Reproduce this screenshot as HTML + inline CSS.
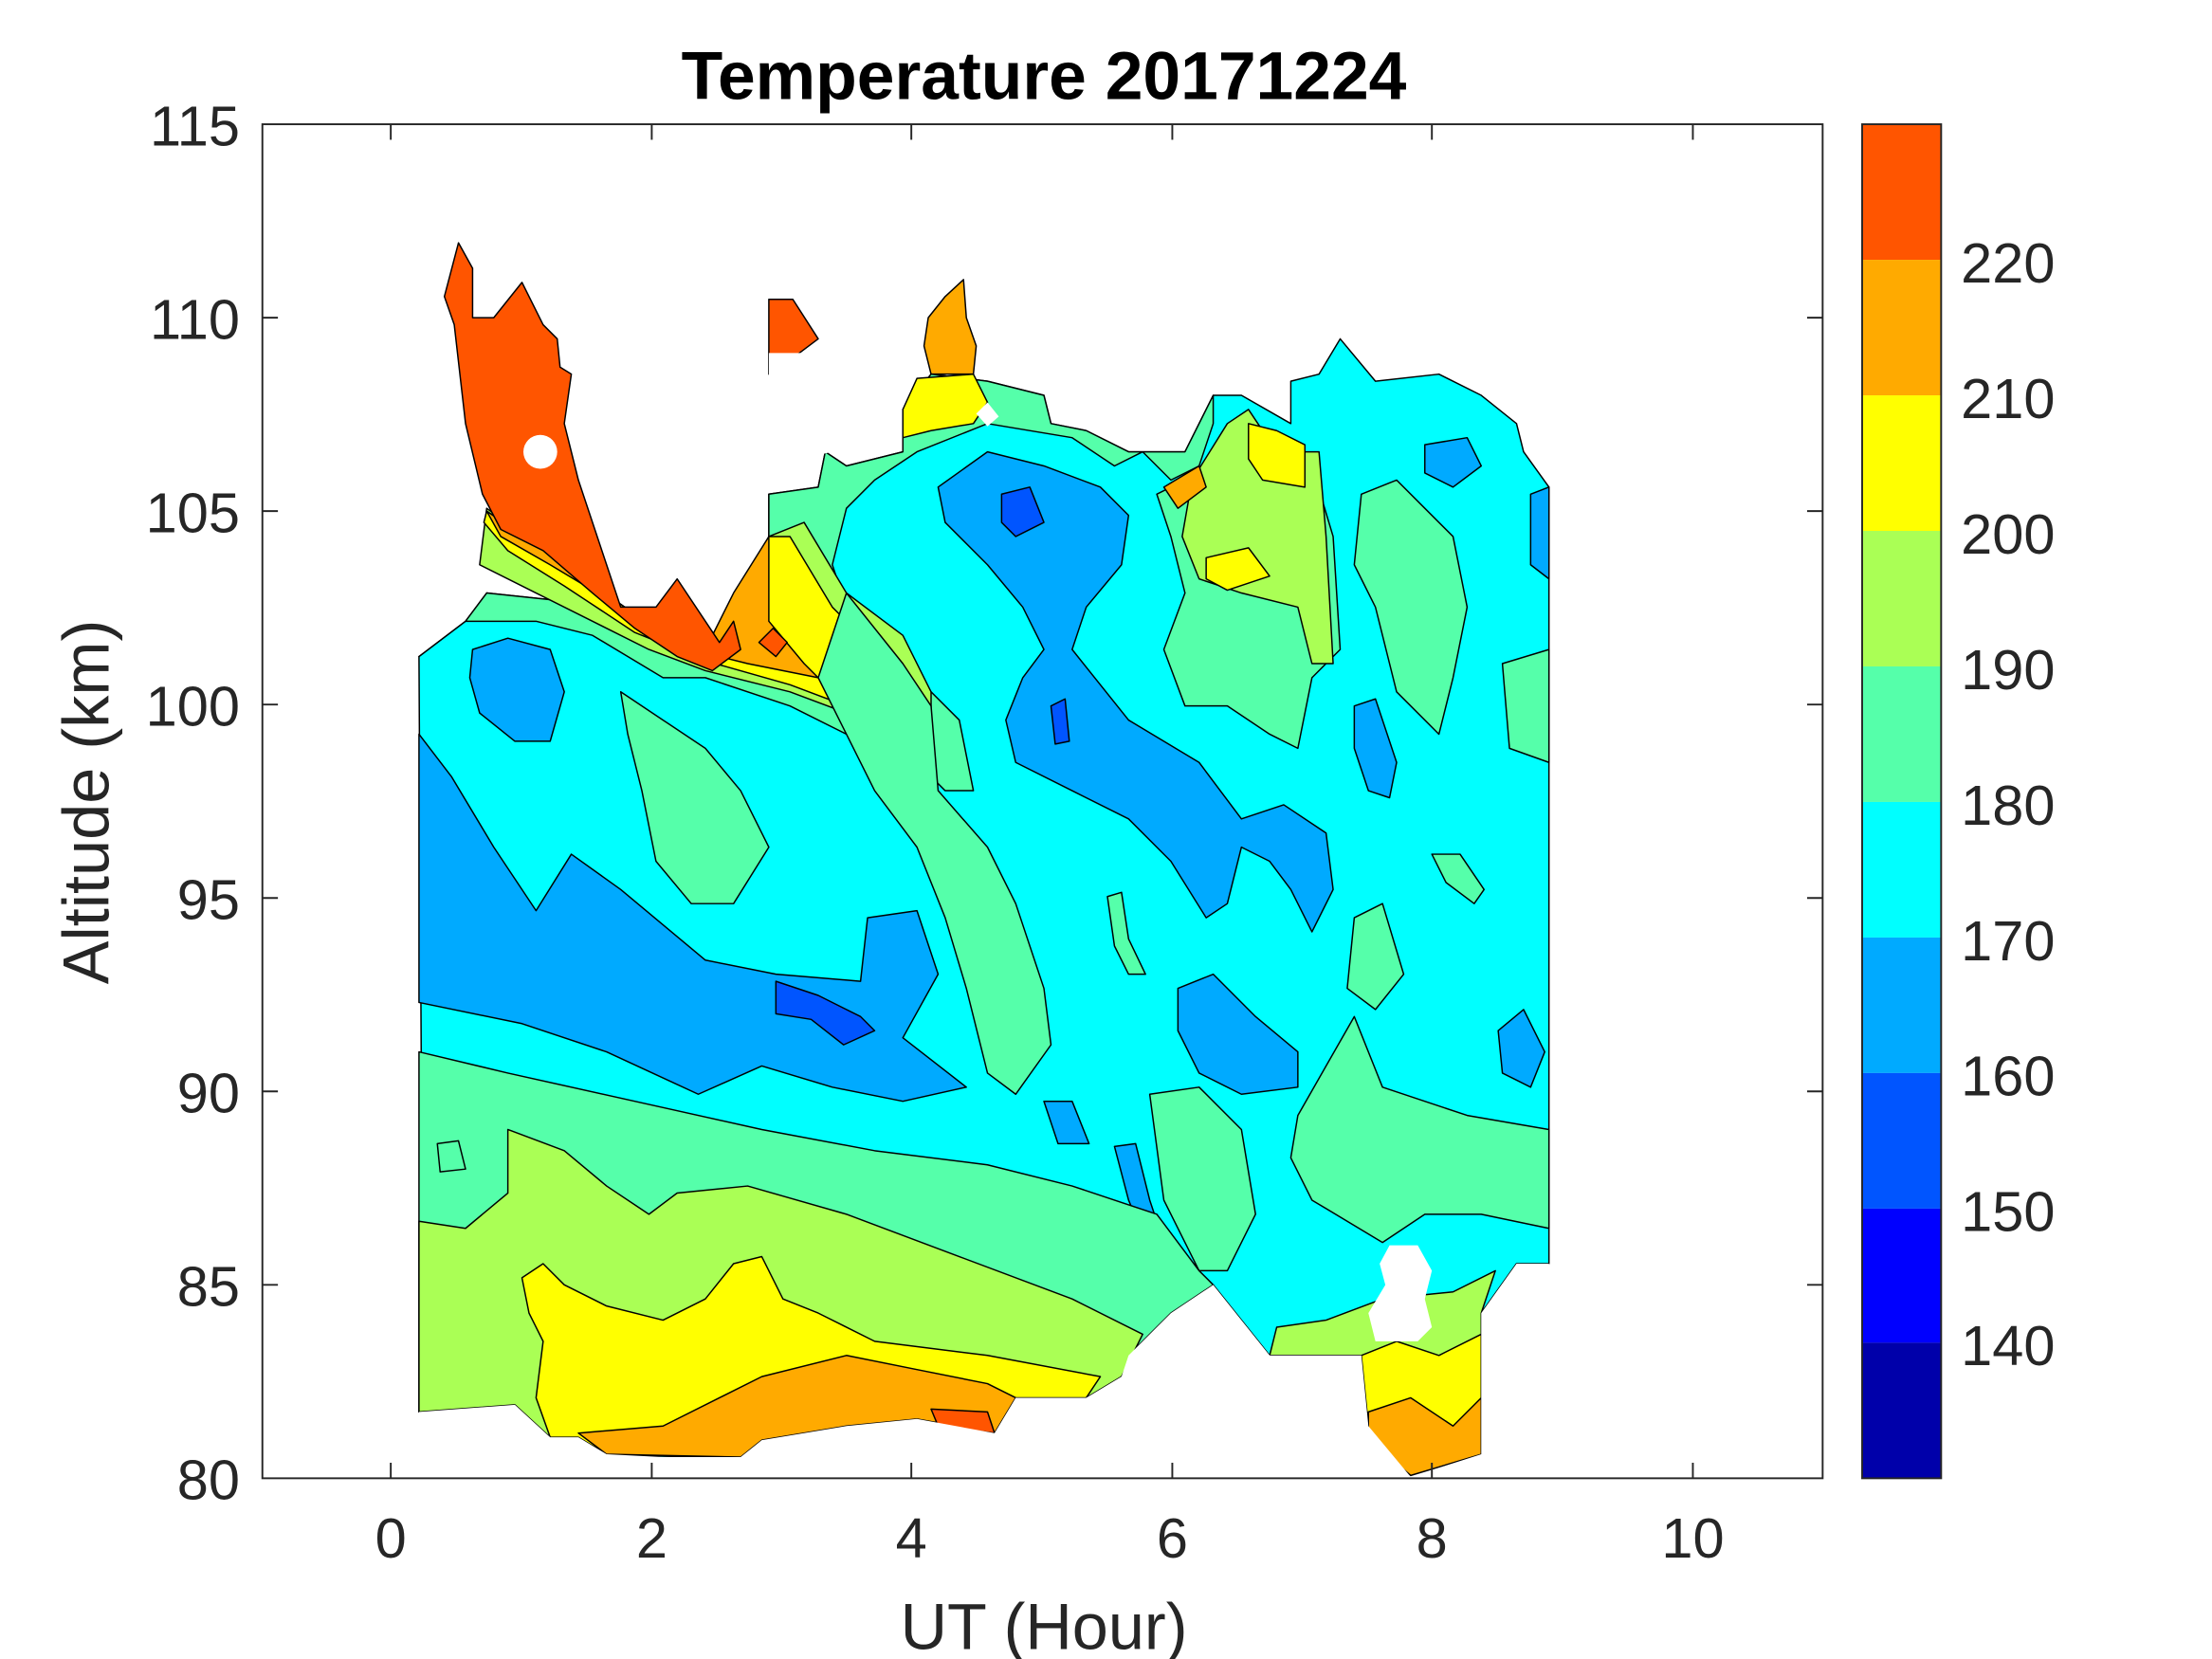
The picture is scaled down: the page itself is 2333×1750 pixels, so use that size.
<!DOCTYPE html>
<html><head><meta charset="utf-8"><style>html,body{margin:0;padding:0;background:#fff}svg{display:block}</style></head>
<body>
<svg width="2333" height="1750" viewBox="0 0 1568 1175" preserveAspectRatio="none" xmlns="http://www.w3.org/2000/svg" font-family="Liberation Sans, sans-serif">
<rect width="1568" height="1175" fill="#fff"/>
<g stroke="#000" stroke-width="1" stroke-linejoin="round">
<polygon fill="#00FFFF" points="297,465 330,440 345,420 440,430 500,470 520,460 545,400 545,350 580,345 585,320 600,330 640,320 640,290 660,265 700,270 740,280 745,300 770,305 800,320 840,320 860,280 880,280 915,300 915,270 935,265 950,240 975,270 1020,265 1050,280 1075,300 1080,320 1098,345 1098,895 1075,895 1050,930 1050,1030 1000,1040 970,1010 965,960 900,960 860,910 830,930 800,960 795,975 770,990 720,990 705,1015 650,1005 600,1010 540,1020 525,1032 470,1032 430,1030 410,1018 390,1018 365,995 300,1000"/>
<polygon fill="#55FFAA" points="297,465 330,440 345,420 440,430 500,470 520,460 545,400 545,350 580,345 585,320 600,330 640,320 640,290 660,265 700,270 740,280 745,300 770,305 800,320 840,320 860,280 860,300 850,330 830,340 810,320 790,330 760,310 700,300 650,320 620,340 600,360 590,400 600,430 640,470 680,510 690,560 670,560 650,540 630,540 600,520 560,500 500,480 470,480 420,450 380,440 330,440"/>
<polygon fill="#AAFF55" points="340,400 345,360 400,400 450,435 500,460 525,430 545,380 570,370 600,420 640,450 660,490 660,530 630,525 600,505 560,490 500,475 460,460 420,440 380,420"/>
<polygon fill="#FFFF00" points="343,370 345,362 400,400 450,435 500,460 525,430 545,380 560,380 590,430 630,470 645,505 635,520 600,500 560,485 500,468 450,448 400,415 360,390"/>
<polygon fill="#FFAA00" points="345,362 400,400 450,435 500,460 520,420 545,380 545,440 570,470 580,480 530,470 490,460 440,430 390,400 355,380"/>
<polygon fill="#FF5500" points="315,210 325,172 335,190 335,225 350,225 370,200 385,230 395,240 397,260 405,265 400,300 410,340 430,400 440,430 465,430 480,410 500,440 510,455 520,440 525,460 505,475 480,465 450,445 420,420 385,390 355,375 342,350 330,300 322,230"/>
<ellipse cx="383" cy="320" rx="12" ry="12" fill="#fff" stroke="none"/>
<polygon fill="#FF5500" points="538,455 548,445 558,455 550,465"/>
<polygon fill="#FF5500" points="545,212 562,212 580,240 560,255 545,265"/>
<polygon fill="#FFAA00" points="658,225 670,210 683,198 685,225 692,245 690,265 660,265 655,245"/>
<polygon fill="#FFFF00" points="640,290 650,268 690,265 700,285 690,300 660,305 640,310"/>
<polygon fill="#fff" stroke="none" points="545,250 595,250 590,320 545,330"/>
<polygon fill="#fff" stroke="none" points="700,285 708,295 700,302 692,293"/>
<polygon fill="#55FFAA" points="820,350 860,330 880,300 900,320 930,330 945,380 950,460 930,480 920,530 900,520 870,500 840,500 825,460 840,420 830,380"/>
<polygon fill="#AAFF55" points="845,340 870,300 885,290 905,320 935,320 940,380 945,470 930,470 920,430 880,420 850,410 838,380"/>
<polygon fill="#FFFF00" points="885,300 905,305 925,315 925,345 895,340 885,325"/>
<polygon fill="#FFFF00" points="855,395 885,388 900,408 870,418 855,410"/>
<polygon fill="#FFAA00" points="825,345 850,330 855,345 835,360"/>
<polygon fill="#55FFAA" points="965,350 990,340 1010,360 1030,380 1040,430 1030,480 1020,520 990,490 975,430 960,400"/>
<polygon fill="#55FFAA" points="1065,470 1098,460 1098,540 1070,530"/>
<polygon fill="#55FFAA" points="920,790 960,720 980,770 1040,790 1098,800 1098,870 1050,860 1010,860 980,880 930,850 915,820"/>
<polygon fill="#55FFAA" points="960,650 980,640 995,690 975,715 955,700"/>
<polygon fill="#55FFAA" points="815,775 850,770 880,800 890,860 870,900 850,900 825,850"/>
<polygon fill="#55FFAA" points="1015,605 1035,605 1052,630 1045,640 1025,625"/>
<polygon fill="#55FFAA" points="785,635 795,632 800,665 812,690 800,690 790,670"/>
<polygon fill="#55FFAA" points="440,490 470,510 500,530 525,560 545,600 520,640 490,640 465,610 455,560 445,520"/>
<polygon fill="#55FFAA" points="600,420 640,470 660,500 665,560 700,600 720,640 740,700 745,740 720,775 700,760 685,700 670,650 650,600 620,560 600,520 580,480"/>
<polygon fill="#00AAFF" points="297,520 320,550 350,600 380,645 405,605 440,630 500,680 550,690 610,695 615,650 650,645 665,690 640,735 685,770 640,780 590,770 540,755 495,775 430,745 370,725 297,710"/>
<polygon fill="#0055FF" points="550,695 580,705 610,720 620,730 598,740 575,722 550,718"/>
<polygon fill="#00AAFF" points="335,460 360,452 390,460 400,490 390,525 365,525 340,505 333,480"/>
<polygon fill="#00AAFF" points="665,345 700,320 740,330 780,345 800,365 795,400 770,430 760,460 800,510 850,540 880,580 910,570 940,590 945,630 930,660 915,630 900,610 880,600 870,640 855,650 830,610 800,580 760,560 720,540 713,510 725,480 740,460 725,430 700,400 670,370"/>
<polygon fill="#0055FF" points="710,350 730,345 740,370 720,380 710,370"/>
<polygon fill="#0055FF" points="745,500 755,495 758,525 748,527"/>
<polygon fill="#00AAFF" points="1010,315 1040,310 1050,330 1030,345 1010,335"/>
<polygon fill="#00AAFF" points="1085,350 1098,345 1098,410 1085,400"/>
<polygon fill="#00AAFF" points="960,500 975,495 990,540 985,565 970,560 960,530"/>
<polygon fill="#00AAFF" points="1062,730 1080,715 1095,745 1085,770 1065,760"/>
<polygon fill="#00AAFF" points="835,700 860,690 890,720 920,745 920,770 880,775 850,760 835,730"/>
<polygon fill="#00AAFF" points="740,780 760,780 772,810 750,810"/>
<polygon fill="#00AAFF" points="790,812 805,810 815,850 825,880 815,885 800,850"/>
<polygon fill="#55FFAA" points="297,745 360,760 450,780 540,800 620,815 700,825 760,840 820,860 850,900 860,910 830,930 800,960 795,975 770,990 720,990 705,1015 650,1005 600,1010 540,1020 525,1032 430,1030 390,1018 365,995 297,1000"/>
<polygon fill="#AAFF55" points="297,865 330,870 360,845 360,800 400,815 430,840 460,860 480,845 530,840 600,860 680,890 760,920 810,945 795,975 770,990 720,990 705,1015 650,1005 600,1010 540,1020 525,1032 430,1030 390,1018 365,995 297,1000"/>
<polygon fill="#FFFF00" points="370,905 385,895 400,910 430,925 470,935 500,920 520,895 540,890 555,920 580,930 620,950 700,960 780,975 770,990 720,990 705,1015 650,1005 600,1010 540,1020 525,1032 430,1030 410,1018 390,1018 380,990 385,950 375,930"/>
<polygon fill="#FFAA00" points="410,1015 470,1010 510,990 540,975 600,960 650,970 700,980 720,990 705,1015 650,1005 600,1010 540,1020 525,1032 430,1030"/>
<polygon fill="#FF5500" points="660,998 700,1000 705,1015 665,1010"/>
<polygon fill="#55FFAA" points="310,810 325,808 330,828 312,830"/>
<polygon fill="#AAFF55" points="900,960 905,940 940,935 980,920 1030,915 1060,900 1050,930 1050,1030 1000,1040 970,1010 965,960"/>
<polygon fill="#FFFF00" points="965,960 990,950 1020,960 1050,945 1050,1030 1000,1040 970,1010"/>
<polygon fill="#FFAA00" points="970,1000 1000,990 1030,1010 1050,990 1050,1030 1000,1045 970,1020"/>
</g>
<polygon fill="#fff" points="297,1000 365,995 390,1018 410,1018 430,1030 470,1032 525,1032 540,1020 600,1010 650,1005 705,1015 720,990 770,990 795,975 800,960 830,930 860,910 900,960 965,960 970,1010 1000,1046 1050,1030 1050,930 1075,895 1098,895 1098,1046 297,1046"/>
<polygon fill="#fff" points="985,882 1005,882 1015,900 1010,920 1015,940 1005,950 975,950 970,930 982,910 978,895"/>
<rect x="186" y="88" width="1106" height="959" fill="none" stroke="#262626" stroke-width="1.3"/>
<g stroke="#262626" stroke-width="1.3">
<line x1="277" y1="1047" x2="277" y2="1036"/><line x1="462" y1="1047" x2="462" y2="1036"/><line x1="646" y1="1047" x2="646" y2="1036"/><line x1="831" y1="1047" x2="831" y2="1036"/><line x1="1015" y1="1047" x2="1015" y2="1036"/><line x1="1200" y1="1047" x2="1200" y2="1036"/>
<line x1="277" y1="88" x2="277" y2="99"/><line x1="462" y1="88" x2="462" y2="99"/><line x1="646" y1="88" x2="646" y2="99"/><line x1="831" y1="88" x2="831" y2="99"/><line x1="1015" y1="88" x2="1015" y2="99"/><line x1="1200" y1="88" x2="1200" y2="99"/>
<line x1="186" y1="225" x2="197" y2="225"/><line x1="186" y1="362" x2="197" y2="362"/><line x1="186" y1="499" x2="197" y2="499"/><line x1="186" y1="636" x2="197" y2="636"/><line x1="186" y1="773" x2="197" y2="773"/><line x1="186" y1="910" x2="197" y2="910"/>
<line x1="1292" y1="225" x2="1281" y2="225"/><line x1="1292" y1="362" x2="1281" y2="362"/><line x1="1292" y1="499" x2="1281" y2="499"/><line x1="1292" y1="636" x2="1281" y2="636"/><line x1="1292" y1="773" x2="1281" y2="773"/><line x1="1292" y1="910" x2="1281" y2="910"/>
</g>
<g fill="#262626" font-size="40" text-anchor="end">
<text x="170" y="103">115</text><text x="170" y="240">110</text><text x="170" y="377">105</text><text x="170" y="514">100</text><text x="170" y="651">95</text><text x="170" y="788">90</text><text x="170" y="925">85</text><text x="170" y="1062">80</text>
</g>
<g fill="#262626" font-size="40" text-anchor="middle">
<text x="277" y="1103">0</text><text x="462" y="1103">2</text><text x="646" y="1103">4</text><text x="831" y="1103">6</text><text x="1015" y="1103">8</text><text x="1200" y="1103">10</text>
<text x="740" y="1168" font-size="46">UT (Hour)</text>
<text x="740" y="70" font-size="48" font-weight="bold" fill="#000">Temperature 20171224</text>
<text transform="translate(77,568) rotate(-90)" font-size="46">Altitude (km)</text>
</g>
<g>
<rect x="1320" y="88" width="56" height="96" fill="#FF5500"/>
<rect x="1320" y="184" width="56" height="96" fill="#FFAA00"/>
<rect x="1320" y="280" width="56" height="96" fill="#FFFF00"/>
<rect x="1320" y="376" width="56" height="96" fill="#AAFF55"/>
<rect x="1320" y="472" width="56" height="96" fill="#55FFAA"/>
<rect x="1320" y="568" width="56" height="96" fill="#00FFFF"/>
<rect x="1320" y="664" width="56" height="96" fill="#00AAFF"/>
<rect x="1320" y="760" width="56" height="96" fill="#0055FF"/>
<rect x="1320" y="856" width="56" height="95" fill="#0000FF"/>
<rect x="1320" y="951" width="56" height="96" fill="#0000AA"/>
<rect x="1320" y="88" width="56" height="959" fill="none" stroke="#262626" stroke-width="1.3"/>
</g>
<g fill="#262626" font-size="40">
<text x="1390" y="200">220</text><text x="1390" y="296">210</text><text x="1390" y="392">200</text><text x="1390" y="488">190</text><text x="1390" y="584">180</text><text x="1390" y="680">170</text><text x="1390" y="776">160</text><text x="1390" y="872">150</text><text x="1390" y="967">140</text>
</g>
</svg>
</body></html>
